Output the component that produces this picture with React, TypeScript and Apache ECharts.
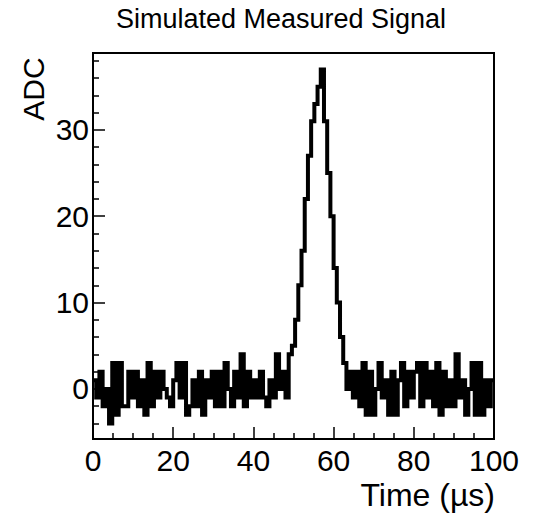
import React, { useEffect, useRef } from "react";
import * as echarts from "echarts";

// Histogram: 125 bins of 0.8 µs over 0–100 µs, integer ADC counts
const binWidth = 0.8;
const adcCounts = [
  1, -1, 2, -2, 0, -4, 3, -3, 3, -2,
  -2, 2, -1, 2, -2, 1, -3, 3, -2, 2,
  -1, 2, 0, -1, -2, 1, 3, -1, 3, -3,
  -2, 1, -2, 2, -3, 1, -1, 2, -2, 2,
  -2, 3, 0, -2, 2, -1, 4, -2, 2, -1,
  1, -1, 2, -1, -2, 1, -1, 4, 0, 2,
  -1, 4, 5, 8, 12, 16, 22, 27, 31, 33,
  35, 37, 31, 25, 20, 14, 10, 6, 3, 0,
  2, -1, 2, -2, 3, -3, 2, -3, 0, 3,
  -1, 1, -3, 2, -3, 1, 3, -2, 2, -1,
  2, 3, -2, 3, -1, 2, -2, 3, -3, 2,
  -2, 1, -2, 4, -1, 1, -3, 0, 3, -3,
  3, -3, 1, -2, 1,
];

const xMin = 0;
const xMax = 100;
const xMajor = 20;
const yMin = -5.8;
const yMax = 38.9;
const yMajorTicks = [0, 10, 20, 30];
const yMinorTicks = [-4, -2, 2, 4, 6, 8, 12, 14, 16, 18, 22, 24, 26, 28, 32, 34, 36, 38];

const titleText = "Simulated Measured Signal";
const xTitle = "Time (\u00b5s)";
const yTitle = "ADC";

const FONT = "'Liberation Sans', Arial, Helvetica, sans-serif";

export default function App() {
  const ref = useRef<HTMLDivElement>(null);

  useEffect(() => {
    if (!ref.current) return;
    const chart = echarts.init(ref.current, undefined, { renderer: "svg" });

    const data: [number, number][] = adcCounts.map((v, i) => [i * binWidth, v]);
    data.push([xMax, adcCounts[adcCounts.length - 1]]);

    chart.setOption({
      animation: false,
      backgroundColor: "#ffffff",
      grid: {
        left: 93,
        right: 47,
        top: 53,
        bottom: 78,
        show: true,
        borderColor: "#000",
        borderWidth: 2,
        backgroundColor: "transparent",
      },
      xAxis: {
        type: "value",
        min: xMin,
        max: xMax,
        interval: xMajor,
        axisLine: { show: true, onZero: false, lineStyle: { color: "#000", width: 2 } },
        axisTick: { show: true, inside: true, length: 12, lineStyle: { color: "#000", width: 1.5 } },
        minorTick: { show: true, splitNumber: 4, length: 6, lineStyle: { color: "#000", width: 1.5 } },
        splitLine: { show: false },
        minorSplitLine: { show: false },
        axisLabel: { color: "#000", fontSize: 30, fontFamily: FONT, margin: 6 },
      },
      yAxis: [
        {
          type: "value",
          min: yMin,
          max: yMax,
          position: "left",
          axisLine: { show: true, onZero: false, lineStyle: { color: "#000", width: 2 } },
          axisTick: {
            show: true,
            inside: true,
            length: 12,
            customValues: yMajorTicks,
            lineStyle: { color: "#000", width: 1.5 },
          },
          splitLine: { show: false },
          axisLabel: {
            color: "#000",
            fontSize: 30,
            fontFamily: FONT,
            margin: 4,
            customValues: yMajorTicks,
          },
        },
        {
          type: "value",
          min: yMin,
          max: yMax,
          position: "left",
          offset: 0,
          axisLine: { show: false, onZero: false },
          axisTick: {
            show: true,
            inside: true,
            length: 6,
            customValues: yMinorTicks,
            lineStyle: { color: "#000", width: 1.5 },
          },
          splitLine: { show: false },
          axisLabel: { show: false },
        },
      ],
      graphic: [
        {
          type: "text",
          x: 281,
          y: 19,
          style: {
            text: titleText,
            fill: "#000",
            font: `27px ${FONT}`,
            align: "center",
            verticalAlign: "middle",
          },
        },
        {
          type: "text",
          x: 33,
          y: 89,
          rotation: Math.PI / 2,
          style: {
            text: yTitle,
            fill: "#000",
            font: `30px ${FONT}`,
            align: "center",
            verticalAlign: "middle",
          },
        },
        {
          type: "text",
          x: 495,
          y: 495,
          style: {
            text: xTitle,
            fill: "#000",
            font: `32px ${FONT}`,
            align: "right",
            verticalAlign: "middle",
          },
        },
      ],
      series: [
        {
          type: "line",
          step: "end",
          data,
          xAxisIndex: 0,
          yAxisIndex: 0,
          showSymbol: false,
          symbol: "none",
          lineStyle: { color: "#000", width: 4, join: "miter" },
          clip: true,
        },
      ],
    });

    return () => chart.dispose();
  }, []);

  return (
    <div
      ref={ref}
      style={{ position: "fixed", left: 0, top: 0, width: 541, height: 517 }}
    />
  );
}
